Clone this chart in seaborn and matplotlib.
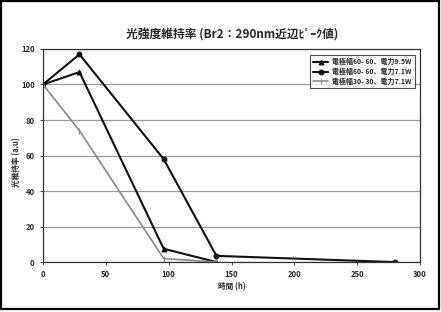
import matplotlib
matplotlib.use("Agg")
import matplotlib.pyplot as plt
import seaborn as sns
import pandas as pd
from matplotlib.patches import Rectangle

# ---- data ----
series_names = ["電極幅60- 60、電力9.5W", "電極幅60- 60、電力7.1W", "電極幅30- 30、電力7.1W"]
times1 = [0, 29, 96, 138]
vals1 = [100, 107, 7.5, 0]
times2 = [0, 29, 96, 138, 280]
vals2 = [100, 117, 58, 3.5, 0]
times3 = [0, 29, 96, 138]
vals3 = [100, 74, 2, 0]
xticks = [0, 50, 100, 150, 200, 250, 300]
yticks = [0, 20, 40, 60, 80, 100, 120]

sns.set_theme(style="white")
plt.rcParams['font.family'] = ['Noto Sans CJK JP', 'DejaVu Sans']

fig = plt.figure(figsize=(4.41, 3.12), dpi=100)
ax = fig.add_axes([0.0975, 0.160, 0.855, 0.683])

styles = [
    dict(color="#111111", marker="^", markersize=3.5, linewidth=1.5),
    dict(color="#111111", marker="o", markersize=3.5, linewidth=1.5),
    dict(color="#888888", marker="|", markersize=5, linewidth=1.2),
]
data = [(times1, vals1), (times2, vals2), (times3, vals3)]
for name, (t, v), st in zip(series_names, data, styles):
    df = pd.DataFrame({"t": t, "v": v})
    sns.lineplot(data=df, x="t", y="v", ax=ax, label=name,
                 markeredgecolor=st["color"], **st)

ax.set_xlim(0, 300)
ax.set_ylim(0, 120)
ax.set_xticks(xticks)
ax.set_yticks(yticks)
ax.tick_params(axis="both", labelsize=5.5, length=2, pad=4, direction="out",
               bottom=True, left=True, width=0.6)
for lbl in ax.get_xticklabels() + ax.get_yticklabels():
    lbl.set_fontweight("bold")
ax.yaxis.grid(True, color="#999999", linewidth=0.9)
ax.xaxis.grid(False)
for side in ["left", "bottom", "right", "top"]:
    ax.spines[side].set_visible(True)
    ax.spines[side].set_color("#333333")
    ax.spines[side].set_linewidth(0.9)

ax.set_xlabel("時間 (h)", fontsize=5.5, fontweight="bold", labelpad=2)
ax.set_ylabel("光維持率 (a.u)", fontsize=5.5, fontweight="bold")
ax.yaxis.set_label_coords(-0.058, 0.47)
fig.text(0.526, 0.888, "光強度維持率 (Br2：290nm近辺ﾋﾟｰｸ値)", ha="center", va="center",
         fontsize=8.5, fontweight="bold")

leg = ax.legend(loc="upper right", bbox_to_anchor=(0.995, 0.99), fontsize=5,
                frameon=True, fancybox=False, edgecolor="#222222",
                handlelength=2.2, handletextpad=0.5, borderpad=0.5, labelspacing=0.4)
leg.get_frame().set_linewidth(0.8)
for txt in leg.get_texts():
    txt.set_fontweight("bold")

fig.patches.append(Rectangle((0.002, 0.01), 0.993, 0.987, transform=fig.transFigure,
                             fill=False, edgecolor="black", linewidth=1.6))

fig.savefig("out.png", dpi=100)
